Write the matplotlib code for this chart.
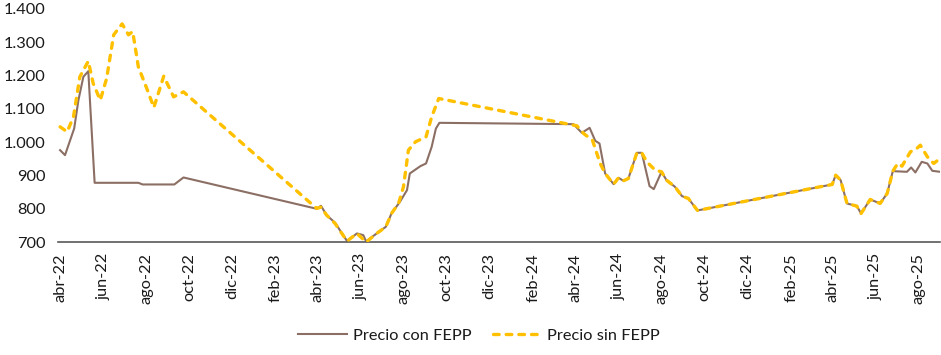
import matplotlib
matplotlib.use("Agg")
import matplotlib.pyplot as plt
import matplotlib.ticker as mticker
import pandas as pd

plt.rcParams['font.family'] = ['Lato', 'DejaVu Sans']

# Precio con FEPP
con_dates = ['2022-04-01', '2022-04-08', '2022-04-21', '2022-04-27', '2022-05-04', '2022-05-11',
             '2022-05-20', '2022-07-21', '2022-07-27', '2022-09-10', '2022-09-23',
             '2023-03-31', '2023-04-06', '2023-04-14', '2023-04-26', '2023-05-13', '2023-05-27',
             '2023-06-05', '2023-06-09', '2023-06-24', '2023-07-07', '2023-07-15', '2023-07-27',
             '2023-08-06', '2023-08-10', '2023-08-25', '2023-09-02', '2023-09-10', '2023-09-16',
             '2023-09-21', '2024-03-29', '2024-04-10', '2024-04-21', '2024-04-29', '2024-05-05',
             '2024-05-13', '2024-05-25', '2024-06-01', '2024-06-08', '2024-06-15', '2024-06-27',
             '2024-07-04', '2024-07-15', '2024-07-21', '2024-08-01', '2024-08-08', '2024-08-20',
             '2024-08-30', '2024-09-08', '2024-09-21', '2025-03-31', '2025-04-05', '2025-04-12',
             '2025-04-21', '2025-05-05', '2025-05-11', '2025-05-24', '2025-06-07', '2025-06-17',
             '2025-06-25', '2025-07-15', '2025-07-21', '2025-07-27', '2025-08-05', '2025-08-13',
             '2025-08-20', '2025-08-31']
con_values = [976, 961, 1041, 1126, 1196, 1213,
              878, 878, 873, 873, 894,
              800, 809, 781, 758, 703, 726,
              721, 702, 726, 746, 786, 821,
              856, 906, 928, 936, 986, 1041,
              1058, 1054, 1028, 1043, 1004, 996,
              906, 874, 893, 884, 891, 968,
              968, 868, 859, 911, 886, 866,
              838, 831, 795, 873, 901, 886,
              816, 808, 786, 828, 816, 846,
              913, 911, 924, 909, 941, 936,
              914, 911]

# Precio sin FEPP
sin_dates = ['2022-04-01', '2022-04-11', '2022-04-20', '2022-04-29', '2022-05-11', '2022-05-18',
             '2022-05-28', '2022-06-06', '2022-06-16', '2022-06-28', '2022-07-07', '2022-07-13',
             '2022-07-21', '2022-08-02', '2022-08-12', '2022-08-26', '2022-09-09', '2022-09-23',
             '2023-03-31', '2023-04-06', '2023-04-14', '2023-04-26', '2023-05-13', '2023-05-27',
             '2023-06-09', '2023-06-24', '2023-07-07', '2023-07-15', '2023-07-25', '2023-08-01',
             '2023-08-08', '2023-08-18', '2023-09-02', '2023-09-10', '2023-09-20', '2024-04-03',
             '2024-04-13', '2024-04-25', '2024-05-06', '2024-05-13', '2024-05-25', '2024-06-01',
             '2024-06-08', '2024-06-15', '2024-06-27', '2024-07-04', '2024-07-11', '2024-07-23',
             '2024-08-01', '2024-08-08', '2024-08-20', '2024-08-30', '2024-09-08', '2024-09-21',
             '2025-03-31', '2025-04-05', '2025-04-12', '2025-04-21', '2025-05-05', '2025-05-11',
             '2025-05-24', '2025-06-07', '2025-06-17', '2025-06-25', '2025-07-02', '2025-07-08',
             '2025-07-20', '2025-07-29', '2025-08-03', '2025-08-13', '2025-08-22', '2025-08-31']
sin_values = [1046, 1031, 1076, 1196, 1243, 1176,
              1126, 1191, 1322, 1355, 1322, 1332,
              1226, 1161, 1104, 1198, 1136, 1151,
              801, 805, 781, 756, 703, 726,
              700, 726, 746, 786, 816, 866,
              976, 1001, 1016, 1076, 1131, 1049,
              1025, 1006, 936, 906, 874, 893,
              884, 891, 968, 968, 941, 916,
              911, 886, 866, 838, 831, 795,
              873, 901, 886, 816, 808, 786,
              828, 816, 846, 913, 936, 928,
              971, 981, 991, 956, 936, 951]

tick_dates = ['2022-04-01', '2022-06-01', '2022-08-01', '2022-10-01', '2022-12-01', '2023-02-01',
              '2023-04-01', '2023-06-01', '2023-08-01', '2023-10-01', '2023-12-01', '2024-02-01',
              '2024-04-01', '2024-06-01', '2024-08-01', '2024-10-01', '2024-12-01', '2025-02-01',
              '2025-04-01', '2025-06-01', '2025-08-01']
tick_labels = ['abr-22', 'jun-22', 'ago-22', 'oct-22', 'dic-22', 'feb-23',
               'abr-23', 'jun-23', 'ago-23', 'oct-23', 'dic-23', 'feb-24',
               'abr-24', 'jun-24', 'ago-24', 'oct-24', 'dic-24', 'feb-25',
               'abr-25', 'jun-25', 'ago-25']
y_ticks = [700, 800, 900, 1000, 1100, 1200, 1300, 1400]

fig = plt.figure(figsize=(9.41, 3.55), dpi=100)
ax = fig.add_axes([0.0616, 0.318, 0.9374, 0.657])

cd = pd.to_datetime(con_dates)
sd = pd.to_datetime(sin_dates)
ax.plot(cd, con_values, color='#8C6F64', lw=1.5, label='Precio con FEPP', zorder=2)
ax.plot(sd, sin_values, color='#FFC000', lw=2.4, dashes=(1.7, 2.1), dash_capstyle='round',
        label='Precio sin FEPP', zorder=3)

ax.set_ylim(700, 1400)
ax.set_yticks(y_ticks)
ax.yaxis.set_major_formatter(mticker.FuncFormatter(lambda v, p: f"{int(v):,}".replace(',', '.')))
ax.set_xlim(pd.Timestamp('2022-03-29'), pd.Timestamp('2025-08-31'))
ax.set_xticks(pd.to_datetime(tick_dates))
ax.set_xticklabels(tick_labels, rotation=90)

for s in ['top', 'right', 'left']:
    ax.spines[s].set_visible(False)
ax.spines['bottom'].set_color('#595959')
ax.spines['bottom'].set_linewidth(1.2)
ax.tick_params(axis='both', length=0, labelsize=11.8, colors='#1a1a1a')
ax.tick_params(axis='x', pad=8)
ax.tick_params(axis='y', pad=9)

leg = fig.legend(loc='center', bbox_to_anchor=(0.509, 0.054), ncol=2, frameon=False,
                 fontsize=11.8, handlelength=3.0, handletextpad=0.35, columnspacing=1.3)
for t in leg.get_texts():
    t.set_color('#1a1a1a')

fig.savefig('out.png', dpi=100)
